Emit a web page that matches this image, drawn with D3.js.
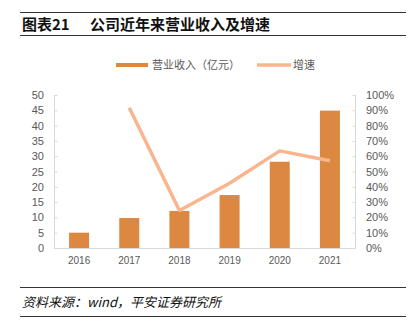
<!DOCTYPE html>
<html><head><meta charset="utf-8">
<script src="https://cdn.jsdelivr.net/npm/d3@7"></script>
<style>body{margin:0;background:#fff;}svg{display:block;font-family:"Liberation Sans","Noto Sans CJK SC",sans-serif;}</style>
</head><body>
<script>
const categories = ["2016","2017","2018","2019","2020","2021"];
const revenue = [5.0, 9.8, 12.1, 17.3, 28.2, 44.9];
const growth = [null, 0.917, 0.245, 0.423, 0.635, 0.57];
const leftTicks = [0,5,10,15,20,25,30,35,40,45,50];
const rightTicks = [0,0.1,0.2,0.3,0.4,0.5,0.6,0.7,0.8,0.9,1.0];
const titleLabel = "图表21";
const titleText = "公司近年来营业收入及增速";
const sourceText = "资料来源：wind，平安证券研究所";
const legendNames = ["营业收入（亿元）","增速"];

const W=414,H=333;
const svg=d3.select("body").append("svg").attr("width",W).attr("height",H);
const barColor="#DC8840", lineColor="#F8B58E", axisColor="#D9D9D9", textColor="#595959";

// header
svg.append("line").attr("x1",20).attr("x2",406).attr("y1",12.5).attr("y2",12.5).attr("stroke","#333").attr("stroke-width",1);
svg.append("line").attr("x1",20).attr("x2",406).attr("y1",35.5).attr("y2",35.5).attr("stroke","#333").attr("stroke-width",1);
svg.append("text").attr("x",22).attr("y",30).attr("font-size",15).attr("font-weight","bold").attr("fill","#111")
  .attr("font-family","'Noto Sans CJK SC',sans-serif").text(titleLabel);
svg.append("text").attr("x",90).attr("y",30).attr("font-size",15).attr("font-weight","bold").attr("fill","#111")
  .attr("font-family","'Noto Sans CJK SC',sans-serif").text(titleText);

// footer
svg.append("line").attr("x1",20).attr("x2",406).attr("y1",287.5).attr("y2",287.5).attr("stroke","#333");
svg.append("line").attr("x1",20).attr("x2",406).attr("y1",316.5).attr("y2",316.5).attr("stroke","#333");
svg.append("text").attr("x",22).attr("y",307).attr("font-size",13).attr("font-style","italic").attr("fill","#111")
  .attr("font-family","'Noto Sans CJK SC',sans-serif").text(sourceText);

const x=d3.scaleBand().domain(categories).range([54,355]).paddingInner(0.6).paddingOuter(0.3);
const xc=d3.scalePoint().domain(categories).range([54,355]).padding(0.5);
const yL=d3.scaleLinear().domain([0,50]).range([248,95]);
const yR=d3.scaleLinear().domain([0,1]).range([248,95]);

// axes
const axL=svg.append("g").attr("transform","translate(54.5,0)")
  .call(d3.axisRight(yL).tickValues(leftTicks).tickSize(3).tickFormat(""));
axL.selectAll("line,path").attr("stroke",axisColor);
axL.select(".domain").attr("d","M0,95V248");
const axR=svg.append("g").attr("transform","translate(355.5,0)")
  .call(d3.axisLeft(yR).tickValues(rightTicks).tickSize(3).tickFormat(""));
axR.selectAll("line,path").attr("stroke",axisColor);
axR.select(".domain").attr("d","M0,95V248");

svg.append("g").selectAll("text").data(leftTicks).join("text")
  .attr("x",44).attr("y",d=>yL(d)+4).attr("text-anchor","end").attr("font-size",11).attr("fill",textColor).text(d=>d);
svg.append("g").selectAll("text").data(rightTicks).join("text")
  .attr("x",366).attr("y",d=>yR(d)+4).attr("text-anchor","start").attr("font-size",11).attr("fill",textColor).text(d=>Math.round(d*100)+"%");

// bars
svg.append("g").selectAll("rect").data(categories).join("rect")
  .attr("x",d=>xc(d)-10).attr("width",20)
  .attr("y",(d,i)=>yL(revenue[i])).attr("height",(d,i)=>248-yL(revenue[i]))
  .attr("fill",barColor);

svg.append("line").attr("x1",54).attr("x2",355.5).attr("y1",248.5).attr("y2",248.5).attr("stroke",axisColor);

svg.append("g").selectAll("text").data(categories).join("text")
  .attr("x",d=>xc(d)).attr("y",264).attr("text-anchor","middle").attr("font-size",10).attr("fill",textColor).text(d=>d);

// line
const pts=categories.map((c,i)=>({c,v:growth[i]})).filter(d=>d.v!=null);
svg.append("path").datum(pts)
  .attr("d",d3.line().x(d=>xc(d.c)).y(d=>yR(d.v)))
  .attr("fill","none").attr("stroke",lineColor).attr("stroke-width",3.5).attr("stroke-linejoin","round");

// legend
svg.append("rect").attr("x",116).attr("y",63).attr("width",32).attr("height",4).attr("fill",barColor);
svg.append("text").attr("x",152).attr("y",69).attr("font-size",11).attr("fill",textColor)
  .attr("font-family","'Noto Sans CJK SC',sans-serif").text(legendNames[0]);
svg.append("line").attr("x1",257).attr("x2",291).attr("y1",65).attr("y2",65).attr("stroke",lineColor).attr("stroke-width",3.5);
svg.append("text").attr("x",293).attr("y",69).attr("font-size",11).attr("fill",textColor)
  .attr("font-family","'Noto Sans CJK SC',sans-serif").text(legendNames[1]);
</script>
</body></html>
